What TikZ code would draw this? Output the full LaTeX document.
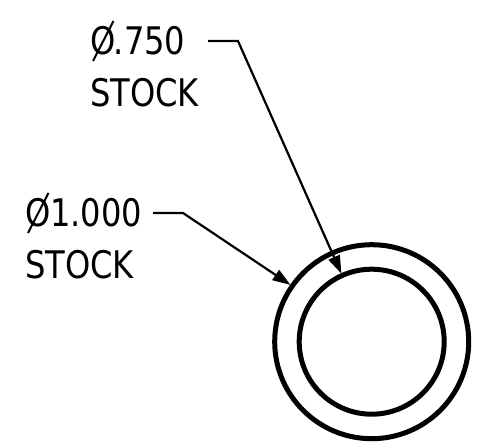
\documentclass[tikz,border=0pt]{standalone}
\usepackage{fontspec}
\setmainfont[FakeStretch=0.94]{DejaVu Sans Condensed}
\usetikzlibrary{arrows.meta}
\tikzset{
  lbl/.style={inner sep=0pt,outer sep=0pt,anchor=base west,font=\fontsize{38}{38}\selectfont},
  ring/.style={draw=black,line width=5pt,circle,inner sep=0pt,outer sep=0pt},
  leader/.style={draw=black,line width=2.2pt,shorten >=2pt,-{Triangle[length=18pt,width=12pt]}},
}
\newcommand{\dia}{\makebox[0pt][l]{\raisebox{-6pt}{\tikz[baseline=0pt,x=1pt,y=1pt]{\path (0,0); \draw[line width=2pt,line cap=butt] (3,0)--(23.5,40);}}}O}
\begin{document}
\begin{tikzpicture}[x=1pt,y=1pt]
\useasboundingbox (0,0) rectangle (490,445);
\node[ring,minimum size=194pt] (outer) at (371.7,103.3) {};
\node[ring,minimum size=145pt] (inner) at (371.7,103.3) {};
\node[lbl] (a1) at (90,390) {\dia.750};
\node[lbl] (a2) at (90,338) {STOCK};
\node[lbl] (b1) at (25,218) {\dia1.000};
\node[lbl] (b2) at (25,167) {STOCK};
\coordinate (ae) at (208,404);
\coordinate (ak) at (238,404);
\coordinate (be) at (153,232);
\coordinate (bk) at (183,232);
\draw[leader] (ae) -- (ak) -- (inner.114);
\draw[leader] (be) -- (bk) -- (outer.145.5);
\end{tikzpicture}
\end{document}
